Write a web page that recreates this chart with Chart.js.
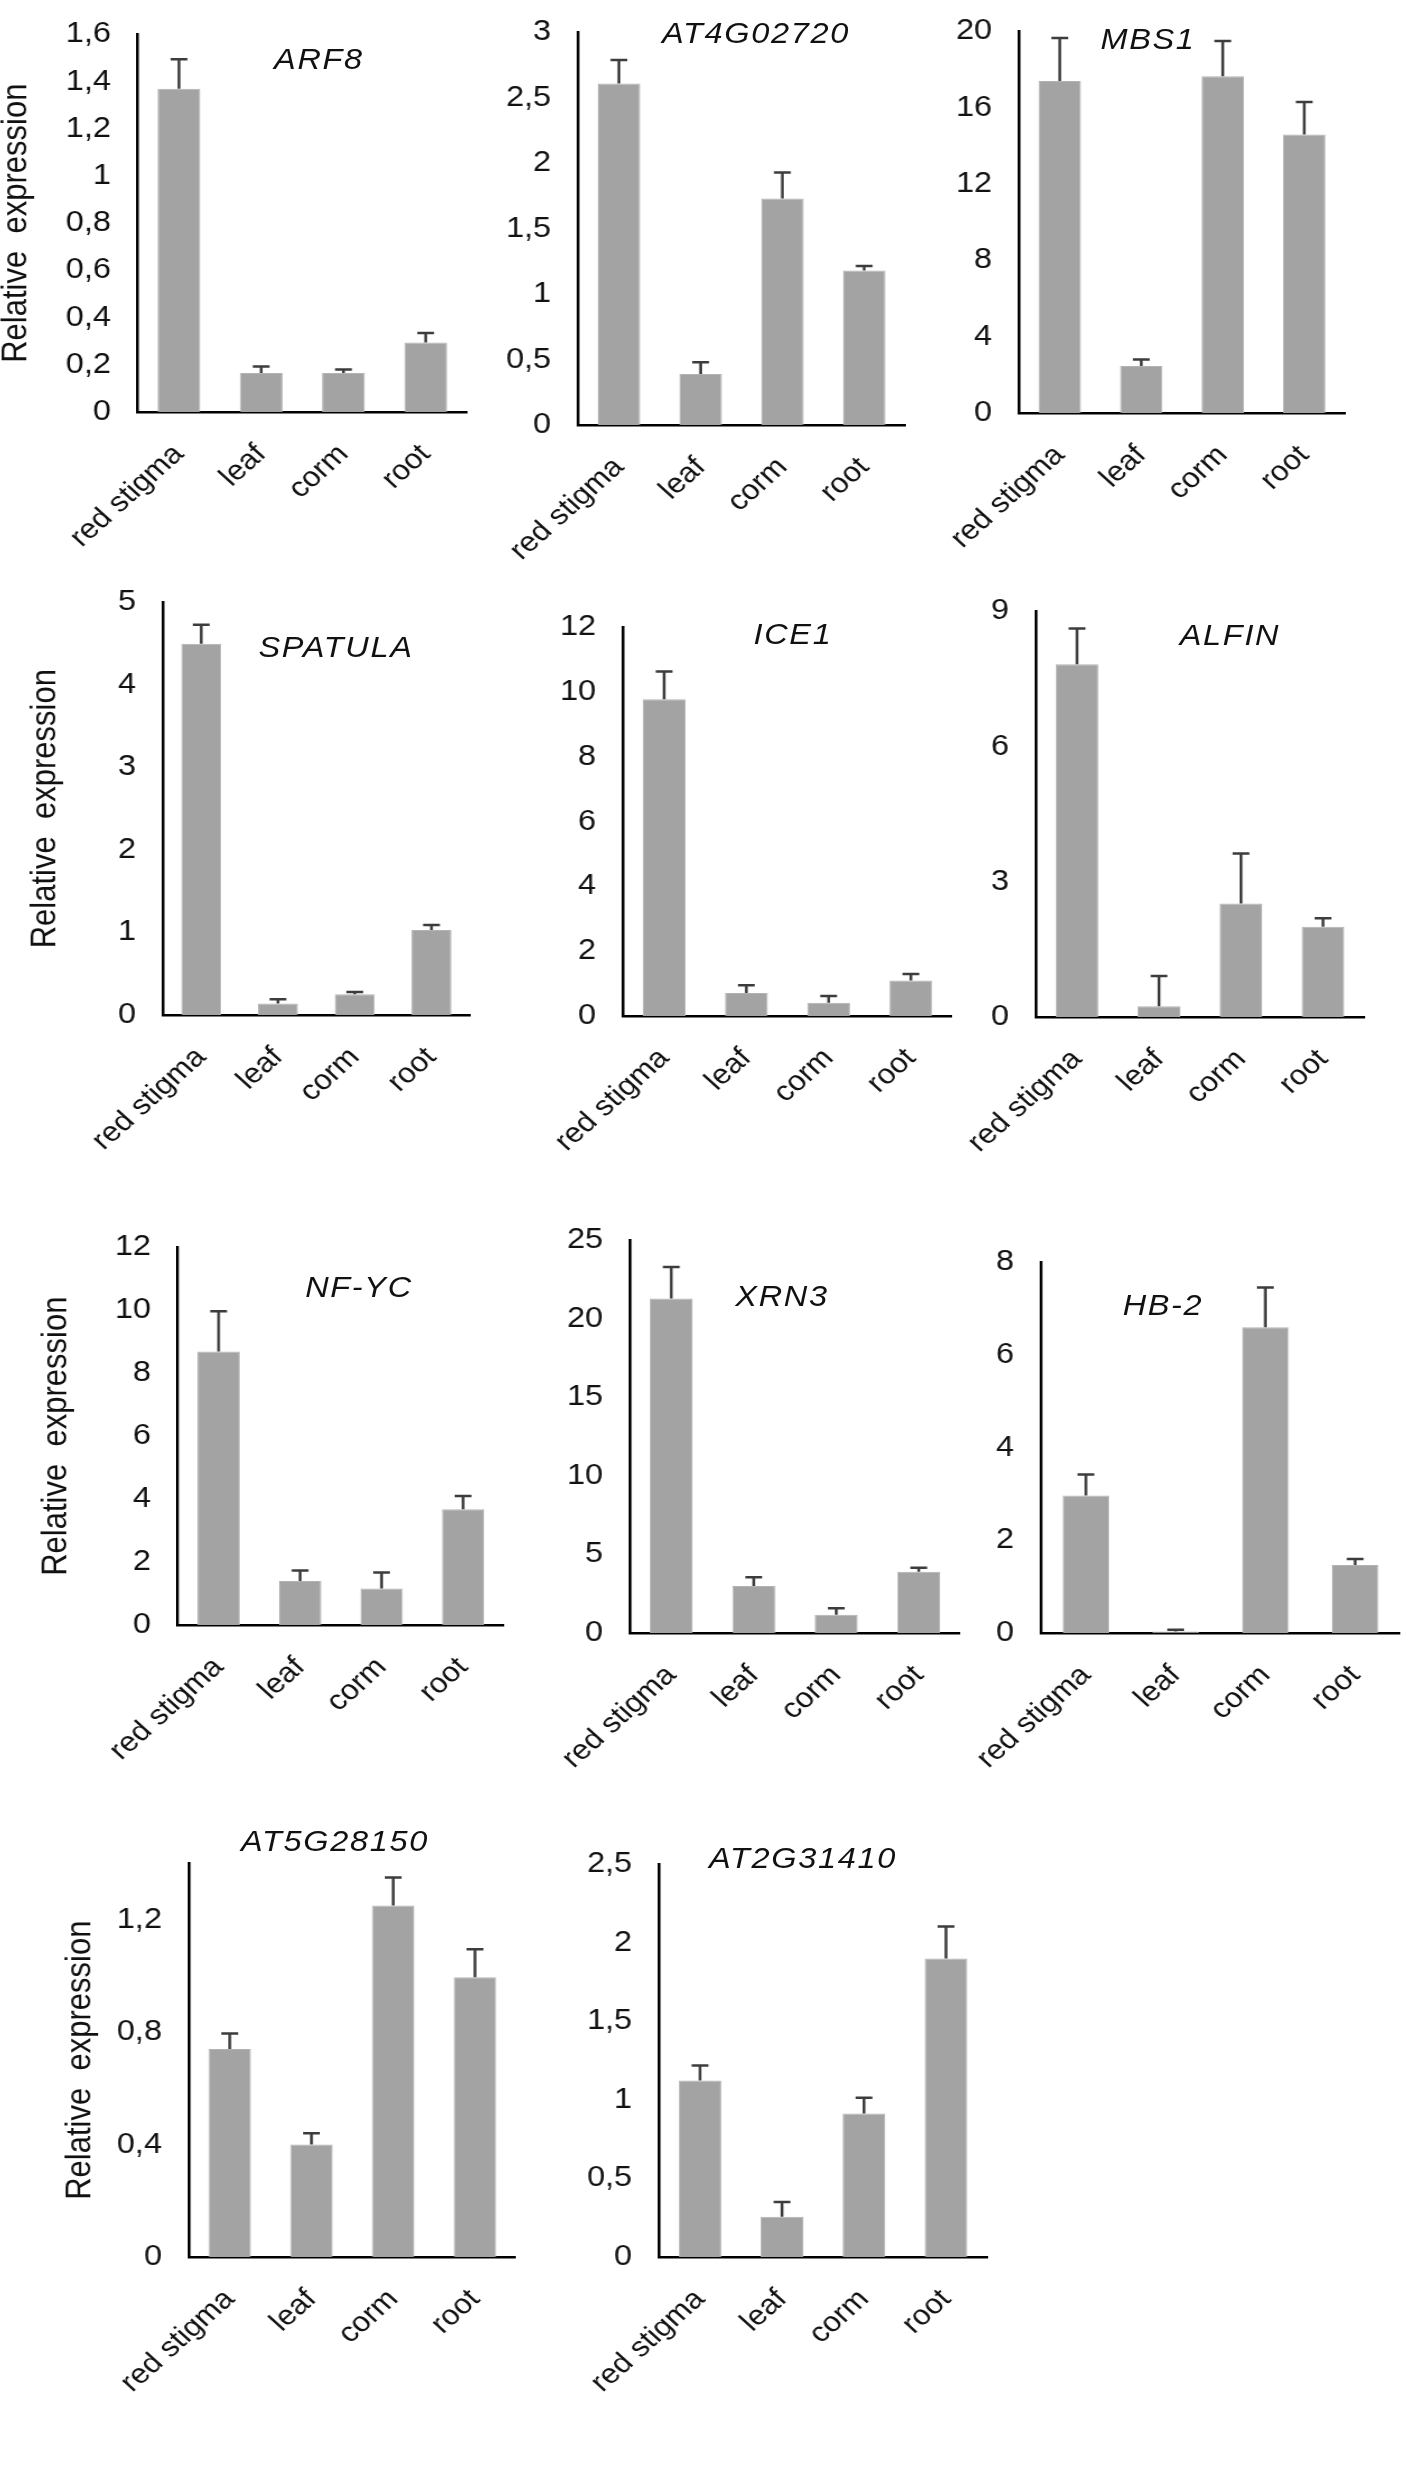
<!DOCTYPE html>
<html>
<head>
<meta charset="utf-8">
<script src="https://cdn.jsdelivr.net/npm/chart.js"></script>
<style>
  body { margin: 0; background: #fff; }
  #page { position: relative; width: 1403px; height: 2481px; overflow: hidden; background: #fff; }
  .holder { position: absolute; transform-origin: 0 0; }
  .holder canvas { display: block; }
  .gene { position: absolute; transform: translate(-50%, -50%) scaleX(1.12); font: italic 29px "Liberation Sans", Arial, sans-serif; letter-spacing: 1.5px; white-space: nowrap; color: #111; }
</style>
</head>
<body>
<div id="page"></div>
<script>
const categories = ["red stigma", "leaf", "corm", "root"];

const arf8Values = [1.37, 0.165, 0.165, 0.295];
const arf8Errors = [0.125, 0.028, 0.015, 0.04];
const arf8Ticks = [0, 0.2, 0.4, 0.6, 0.8, 1, 1.2, 1.4, 1.6];

const at4g02720Values = [2.61, 0.39, 1.73, 1.18];
const at4g02720Errors = [0.18, 0.09, 0.2, 0.035];
const at4g02720Ticks = [0, 0.5, 1, 1.5, 2, 2.5, 3];

const mbs1Values = [17.4, 2.46, 17.65, 14.6];
const mbs1Errors = [2.25, 0.35, 1.85, 1.7];
const mbs1Ticks = [0, 4, 8, 12, 16, 20];

const spatulaValues = [4.5, 0.14, 0.25, 1.03];
const spatulaErrors = [0.23, 0.05, 0.03, 0.06];
const spatulaTicks = [0, 1, 2, 3, 4, 5];

const ice1Values = [9.78, 0.71, 0.41, 1.1];
const ice1Errors = [0.86, 0.24, 0.21, 0.2];
const ice1Ticks = [0, 2, 4, 6, 8, 10, 12];

const alfinValues = [7.83, 0.24, 2.52, 2.0];
const alfinErrors = [0.79, 0.67, 1.11, 0.19];
const alfinTicks = [0, 3, 6, 9];

const nfycValues = [8.69, 1.4, 1.16, 3.68];
const nfycErrors = [1.28, 0.33, 0.51, 0.42];
const nfycTicks = [0, 2, 4, 6, 8, 10, 12];

const xrn3Values = [21.3, 3.0, 1.16, 3.9];
const xrn3Errors = [2.0, 0.55, 0.41, 0.25];
const xrn3Ticks = [0, 5, 10, 15, 20, 25];

const hb2Values = [2.97, 0.03, 6.6, 1.47];
const hb2Errors = [0.45, 0.04, 0.86, 0.13];
const hb2Ticks = [0, 2, 4, 6, 8];

const at5g28150Values = [0.74, 0.4, 1.25, 0.995];
const at5g28150Errors = [0.055, 0.04, 0.1, 0.1];
const at5g28150Ticks = [0, 0.4, 0.8, 1.2];

const at2g31410Values = [1.124, 0.256, 0.914, 1.9];
const at2g31410Errors = [0.095, 0.095, 0.1, 0.205];
const at2g31410Ticks = [0, 0.5, 1, 1.5, 2, 2.5];

// where each panel sits on the page (axis corner, top of value axis, right end of category axis)
const panels = [
    { gene: "ARF8", values: arf8Values, errors: arf8Errors, ticks: arf8Ticks, max: 1.6,
      axisX: 138, topY: 17, baseY: 412, rightX: 467, titleX: 17, geneX: 319, geneY: 59 },
    { gene: "AT4G02720", values: at4g02720Values, errors: at4g02720Errors, ticks: at4g02720Ticks, max: 3,
      axisX: 578, topY: 15, baseY: 425, rightX: 905, geneX: 756, geneY: 33 },
    { gene: "MBS1", values: mbs1Values, errors: mbs1Errors, ticks: mbs1Ticks, max: 20,
      axisX: 1019, topY: 14, baseY: 413, rightX: 1345, geneX: 1148, geneY: 39 },
    { gene: "SPATULA", values: spatulaValues, errors: spatulaErrors, ticks: spatulaTicks, max: 5,
      axisX: 163, topY: 585, baseY: 1015, rightX: 470, titleX: 46, geneX: 336, geneY: 647 },
    { gene: "ICE1", values: ice1Values, errors: ice1Errors, ticks: ice1Ticks, max: 12,
      axisX: 623, topY: 610, baseY: 1016, rightX: 952, geneX: 793, geneY: 634 },
    { gene: "ALFIN", values: alfinValues, errors: alfinErrors, ticks: alfinTicks, max: 9,
      axisX: 1036, topY: 594, baseY: 1017, rightX: 1364, geneX: 1230, geneY: 635 },
    { gene: "NF-YC", values: nfycValues, errors: nfycErrors, ticks: nfycTicks, max: 12,
      axisX: 178, topY: 1230, baseY: 1625, rightX: 504, titleX: 57, geneX: 359, geneY: 1287 },
    { gene: "XRN3", values: xrn3Values, errors: xrn3Errors, ticks: xrn3Ticks, max: 25,
      axisX: 630, topY: 1223, baseY: 1633, rightX: 960, geneX: 782, geneY: 1296 },
    { gene: "HB-2", values: hb2Values, errors: hb2Errors, ticks: hb2Ticks, max: 8,
      axisX: 1041, topY: 1245, baseY: 1633, rightX: 1400, geneX: 1163, geneY: 1305 },
    { gene: "AT5G28150", values: at5g28150Values, errors: at5g28150Errors, ticks: at5g28150Ticks, max: 1.4,
      axisX: 189, topY: 1846, baseY: 2257, rightX: 516, titleX: 81, geneX: 335, geneY: 1841 },
    { gene: "AT2G31410", values: at2g31410Values, errors: at2g31410Errors, ticks: at2g31410Ticks, max: 2.5,
      axisX: 659, topY: 1847, baseY: 2257, rightX: 987, geneX: 803, geneY: 1858 }
];

const FONT = "'Liberation Sans', Arial, sans-serif";
// the original figure is a little wider than it is tall, text included
const STRETCH = 1.12;
const TITLE_SIZE = 31;

const errorBars = {
    id: 'errorBars',
    afterDatasetsDraw(chart, args, opts) {
        const ctx = chart.ctx;
        const x = chart.scales.x;
        const y = chart.scales.y;
        const ds = chart.data.datasets[0];
        ctx.save();
        ctx.strokeStyle = opts.color;
        ctx.lineWidth = opts.width;
        ds.data.forEach((v, i) => {
            const px = x.getPixelForValue(i);
            const y0 = y.getPixelForValue(v);
            const y1 = y.getPixelForValue(v + ds.errors[i]);
            ctx.beginPath();
            ctx.moveTo(px, y0);
            ctx.lineTo(px, y1);
            ctx.moveTo(px - opts.cap, y1);
            ctx.lineTo(px + opts.cap, y1);
            ctx.stroke();
        });
        ctx.restore();
    }
};

const page = document.getElementById('page');

function drawPanel(p) {
    const padTop = 24, padRight = 36, xAxisH = 190;
    const firstColumn = p.titleX !== undefined;
    const titleHalf = TITLE_SIZE * 1.2 / 2;
    const left = firstColumn ? p.titleX - titleHalf * STRETCH : p.axisX - 110;
    const yW = (p.axisX - left) / STRETCH;
    const plotW = (p.rightX - p.axisX) / STRETCH;

    const holder = document.createElement('div');
    holder.className = 'holder';
    holder.style.left = left + 'px';
    holder.style.top = (p.topY - padTop) + 'px';
    holder.style.transform = 'scaleX(' + STRETCH + ')';

    const canvas = document.createElement('canvas');
    canvas.width = Math.round(yW + plotW + padRight);
    canvas.height = padTop + (p.baseY - p.topY) + xAxisH;
    holder.appendChild(canvas);
    page.appendChild(holder);

    const config = {
        type: 'bar',
        data: {
            labels: categories,
            datasets: [{
                data: p.values,
                errors: p.errors,
                backgroundColor: '#a3a3a3',
                borderColor: '#b3b3b3',
                borderWidth: 1,
                categoryPercentage: 1,
                barPercentage: 0.52
            }]
        },
        options: {
            responsive: false,
            animation: false,
            events: [],
            layout: { padding: { top: padTop, right: canvas.width - yW - plotW, left: 0, bottom: 0 } },
            plugins: {
                legend: { display: false },
                tooltip: { enabled: false },
                errorBars: { color: '#3c3c3c', width: 2.5, cap: 7.5 }
            },
            scales: {
                x: {
                    z: 1,
                    grid: { display: false, drawTicks: false },
                    border: { color: '#000', width: 2.5 },
                    ticks: {
                        color: '#111',
                        font: { family: FONT, size: 28 },
                        minRotation: 45,
                        maxRotation: 45,
                        autoSkip: false,
                        padding: 26
                    },
                    afterFit(scale) { scale.height = xAxisH; }
                },
                y: {
                    min: 0,
                    max: p.max,
                    grid: { display: false, drawTicks: false },
                    border: { color: '#000', width: 2.5 },
                    ticks: {
                        color: '#111',
                        font: { family: FONT, size: 29 },
                        padding: 24,
                        callback: v => String(v).replace('.', ',')
                    },
                    afterBuildTicks(scale) { scale.ticks = p.ticks.map(v => ({ value: v })); },
                    afterFit(scale) { scale.width = yW; },
                    title: {
                        display: firstColumn,
                        text: 'Relative  expression',
                        color: '#111',
                        font: { family: FONT, size: TITLE_SIZE },
                        padding: 0
                    }
                }
            }
        },
        plugins: [errorBars]
    };

    new Chart(canvas, config);

    const label = document.createElement('div');
    label.className = 'gene';
    label.textContent = p.gene;
    label.style.left = p.geneX + 'px';
    label.style.top = p.geneY + 'px';
    page.appendChild(label);
}

for (const p of panels) {
    drawPanel(p);
}
</script>
</body>
</html>
